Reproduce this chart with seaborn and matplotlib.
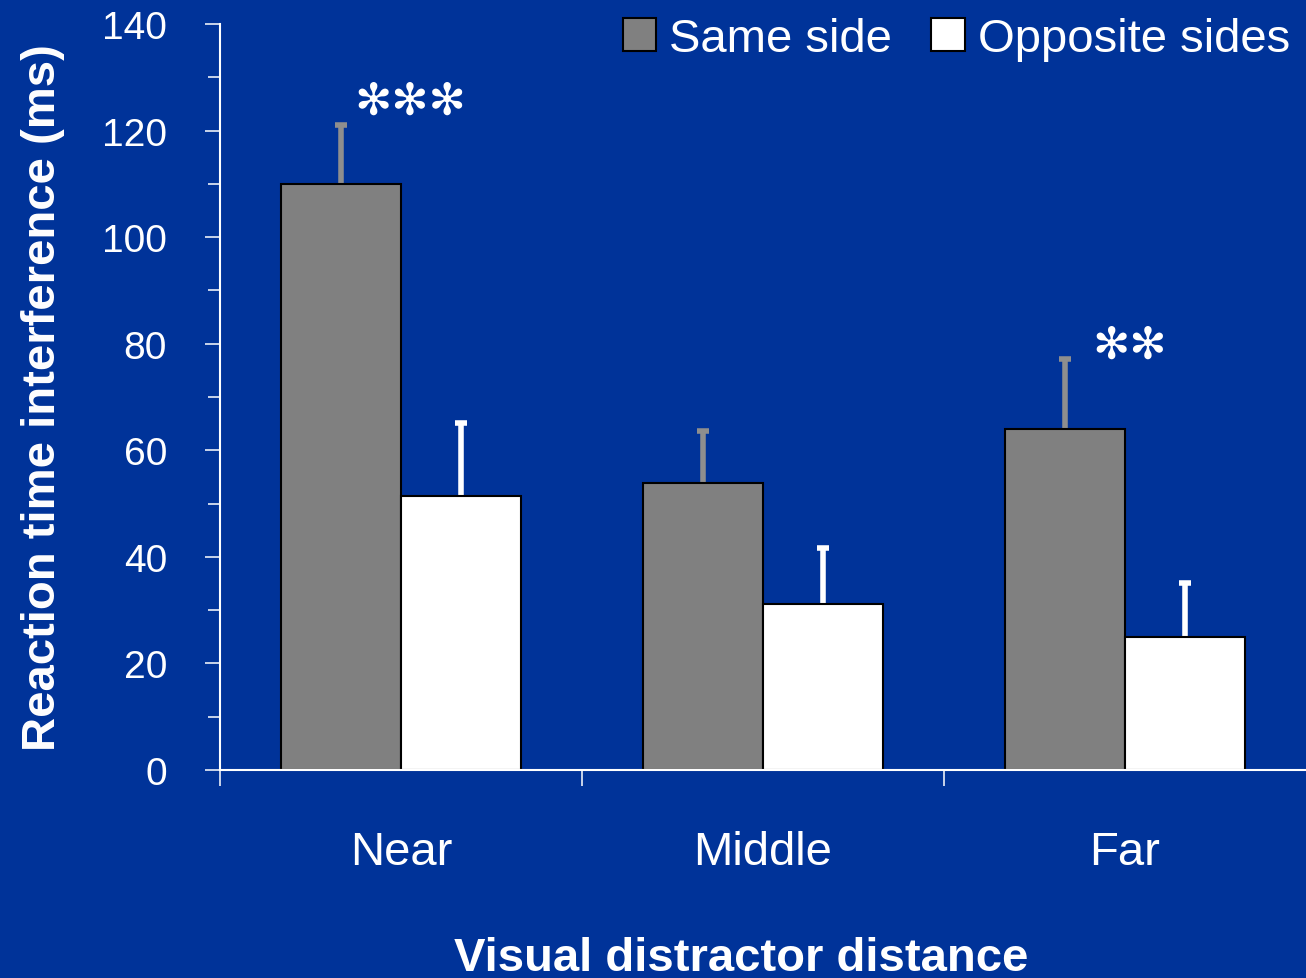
import matplotlib
matplotlib.use('Agg')
import matplotlib.pyplot as plt
import seaborn as sns
import pandas as pd
import numpy as np
from matplotlib.patches import Patch

# ---- data ----
categories = ['Near', 'Middle', 'Far']
groups = ['Same side', 'Opposite sides']
same_side = [110.0, 53.9, 64.0]
same_side_err = [11.1, 9.7, 13.1]
opposite_sides = [51.4, 31.2, 25.0]
opposite_sides_err = [13.7, 10.5, 10.1]
yticks = [0, 20, 40, 60, 80, 100, 120, 140]
stars = ['✻✻✻', '', '✻✻']

# ---- style ----
sns.set_style('ticks')
plt.rcParams['font.family'] = ['Liberation Sans', 'DejaVu Sans']
BG = '#003399'
GRAY = '#808080'
ERR_GRAY = '#8e8e8e'

W, H = 1306, 979
fig = plt.figure(figsize=(W / 100, H / 100), dpi=100, facecolor=BG)
ax = fig.add_axes([220 / W, 1 - 771 / H, 1 - 220 / W, (771 - 25) / H])
ax.set_facecolor(BG)

df = pd.DataFrame({
    'distance': categories * 2,
    'condition': [groups[0]] * len(categories) + [groups[1]] * len(categories),
    'rt': same_side + opposite_sides,
})

total_w = 0.663
sns.barplot(data=df, x='distance', y='rt', hue='condition', order=categories,
            hue_order=groups, palette={groups[0]: GRAY, groups[1]: '#ffffff'},
            width=total_w, gap=0, edgecolor='black', linewidth=1.5,
            saturation=1, errorbar=None, legend=False, ax=ax, zorder=2)

x = np.arange(len(categories))
bw = total_w / 2


def upper_errorbar(xpos, vals, errs, color):
    cont = ax.errorbar(xpos, vals, yerr=[np.zeros(len(xpos)), errs],
                       fmt='none', ecolor=color, elinewidth=4, capsize=4.3,
                       capthick=4, zorder=1)
    for cap in cont[1]:
        if np.allclose(np.asarray(cap.get_ydata(), float), np.asarray(vals, float)):
            cap.remove()


upper_errorbar(x - bw / 2, same_side, same_side_err, ERR_GRAY)
upper_errorbar(x + bw / 2, opposite_sides, opposite_sides_err, 'white')

ax.set_xlim(-0.5, len(categories) - 0.5)
ax.set_ylim(0, 140)

for s in ['top', 'right']:
    ax.spines[s].set_visible(False)
for s in ['left', 'bottom']:
    ax.spines[s].set_color('white')
    ax.spines[s].set_linewidth(1.5)

ax.set_yticks(yticks)
ax.set_yticks(np.array(yticks[:-1]) + 10, minor=True)
ax.tick_params(axis='y', which='major', length=10.8, width=1.1, color='white',
               labelcolor='white', labelsize=28, pad=27.4, direction='out')
ax.tick_params(axis='y', which='minor', length=8.6, width=1.1, color='white',
               direction='out')

ax.set_xticks(x)
ax.set_xticklabels(categories)
ax.set_xticks(x - 0.5, minor=True)
ax.tick_params(axis='x', which='major', length=0, labelsize=34,
               labelcolor='white', pad=43)
ax.tick_params(axis='x', which='minor', length=11.5, width=1.1, color='white',
               direction='out')

ax.set_xlabel('Visual distractor distance', fontsize=34, fontweight='bold',
              color='white', va='center')
ax.xaxis.set_label_coords((741 - 220) / 1086, (771 - 959) / 746)
ax.set_ylabel('Reaction time interference (ms)', fontsize=34, fontweight='bold',
              color='white', va='center')
ax.yaxis.set_label_coords((43 - 220) / 1086, 0.5)

handles = [Patch(facecolor=GRAY, edgecolor='black', linewidth=1.5, label=groups[0]),
           Patch(facecolor='white', edgecolor='black', linewidth=1.5, label=groups[1])]
ax.legend(handles=handles, loc='upper right',
          bbox_to_anchor=(1290 / W, 1 - 18 / H), bbox_transform=fig.transFigure,
          ncol=2, frameon=False, fontsize=34, labelcolor='white',
          handlelength=0.7, handleheight=0.68, handletextpad=0.28,
          columnspacing=0.83, borderpad=0, borderaxespad=0)

# significance markers
ax.text(0.025, 125.5, stars[0], ha='center', va='center', color='white',
        fontsize=32, family='DejaVu Sans')
ax.text(2.014, 79.8, stars[2], ha='center', va='center', color='white',
        fontsize=32, family='DejaVu Sans')

fig.savefig('out.png', dpi=100, facecolor=BG)
